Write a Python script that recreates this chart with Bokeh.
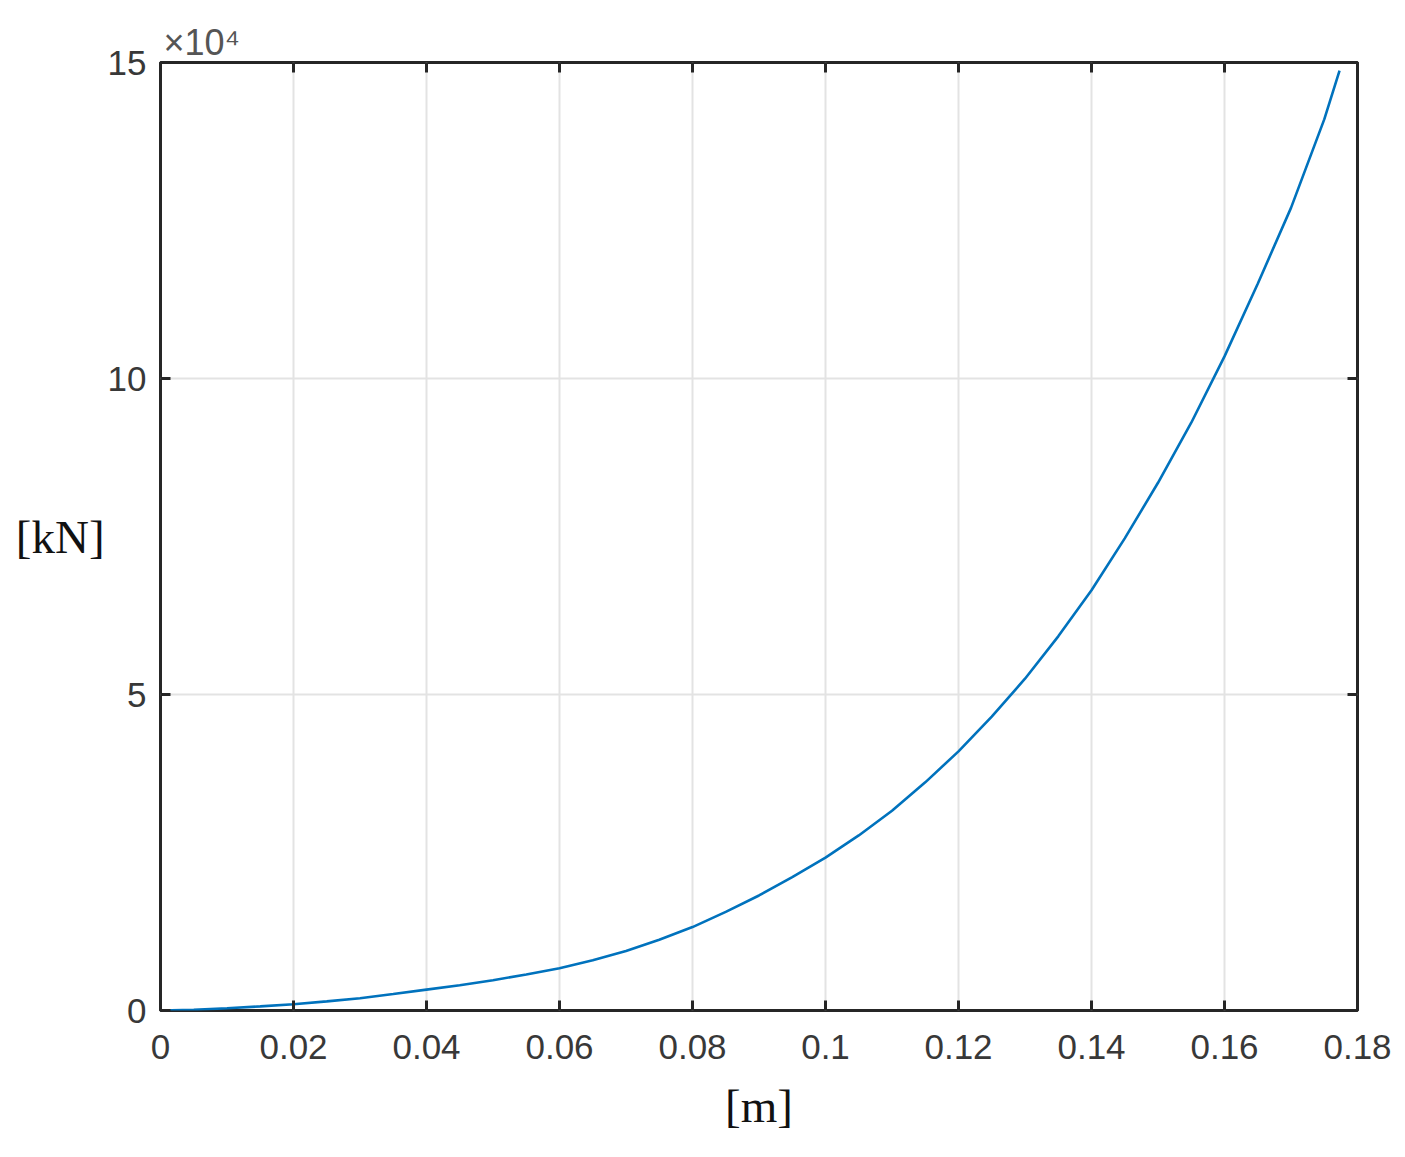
from bokeh.plotting import figure
from bokeh.models import (FixedTicker, CustomJSTickFormatter, LinearAxis, Range1d, Title)
from bokeh.embed import file_html
from bokeh.resources import INLINE

# data
x_m = [0.0, 0.005, 0.01, 0.015, 0.02, 0.025, 0.03, 0.035, 0.04, 0.045, 0.05,
       0.055, 0.06, 0.065, 0.07, 0.075, 0.08, 0.085, 0.09, 0.095, 0.10,
       0.105, 0.11, 0.115, 0.12, 0.125, 0.13, 0.135, 0.14, 0.145, 0.15,
       0.155, 0.16, 0.165, 0.17, 0.175, 0.1773]
force_kN = [0, 100, 350, 650, 1000, 1450, 1950, 2600, 3300, 4000, 4800,
            5700, 6700, 7950, 9400, 11200, 13200, 15600, 18200, 21100, 24200,
            27700, 31600, 36100, 41000, 46500, 52500, 59200, 66500, 74700, 83500,
            93000, 103500, 115000, 127000, 141000, 148700]

x_ticks = [0, 0.02, 0.04, 0.06, 0.08, 0.1, 0.12, 0.14, 0.16, 0.18]
y_ticks = [0, 50000, 100000, 150000]

AX = "#262626"
LBL = "#383838"
GRID = "#e3e3e3"

p = figure(width=1390, height=1140, output_backend="svg", toolbar_location=None,
           x_range=Range1d(0, 0.18), y_range=Range1d(0, 150000),
           min_border_left=160, min_border_right=40, min_border_top=62,
           min_border_bottom=130)
p.frame_width = 1197
p.frame_height = 948

p.line(x_m, force_kN, line_color="#0072BD", line_width=2.6)

xfmt = CustomJSTickFormatter(code="return parseFloat(tick.toFixed(2)).toString();")
yfmt = CustomJSTickFormatter(code="return (tick/1e4).toString();")

def style_axis(ax, ticks, fmt, show_labels):
    ax.ticker = FixedTicker(ticks=ticks)
    ax.formatter = fmt
    ax.axis_line_color = None
    ax.major_tick_line_color = AX
    ax.major_tick_line_width = 3
    ax.major_tick_in = 10
    ax.major_tick_out = 0
    ax.minor_tick_line_color = None
    ax.major_label_text_font = "Liberation Sans"
    ax.major_label_text_font_size = "35px"
    ax.major_label_text_color = LBL
    if not show_labels:
        ax.major_label_text_alpha = 0
        ax.major_label_text_font_size = "1px"

style_axis(p.xaxis[0], x_ticks, xfmt, True)
style_axis(p.yaxis[0], y_ticks, yfmt, True)
p.xaxis[0].major_label_standoff = 24
p.yaxis[0].major_label_standoff = 14

p.xaxis[0].axis_label = "[m]"
p.xaxis[0].axis_label_text_font = "Liberation Serif"
p.xaxis[0].axis_label_text_font_style = "normal"
p.xaxis[0].axis_label_text_font_size = "47px"
p.xaxis[0].axis_label_text_color = "#111111"
p.xaxis[0].axis_label_standoff = 18

p.yaxis[0].axis_label = "[kN]"
p.yaxis[0].axis_label_orientation = "horizontal"
p.yaxis[0].axis_label_text_font = "Liberation Serif"
p.yaxis[0].axis_label_text_font_style = "normal"
p.yaxis[0].axis_label_text_font_size = "47px"
p.yaxis[0].axis_label_text_color = "#111111"
p.yaxis[0].axis_label_text_baseline = "bottom"
p.yaxis[0].axis_label_standoff = 0

top = LinearAxis()
style_axis(top, x_ticks, xfmt, False)
p.add_layout(top, "above")
right = LinearAxis()
style_axis(right, y_ticks, yfmt, False)
p.add_layout(right, "right")

p.add_layout(Title(text="×10⁴", align="left", offset=3, text_font="Liberation Sans",
                   text_font_size="36px", text_font_style="normal",
                   text_color="#555555", standoff=0), "above")

p.xgrid.ticker = FixedTicker(ticks=x_ticks)
p.ygrid.ticker = FixedTicker(ticks=y_ticks)
p.grid.grid_line_color = GRID
p.grid.grid_line_width = 2

p.outline_line_color = AX
p.outline_line_width = 3
p.outline_line_alpha = 1

open("out.html", "w").write(file_html(p, INLINE))
